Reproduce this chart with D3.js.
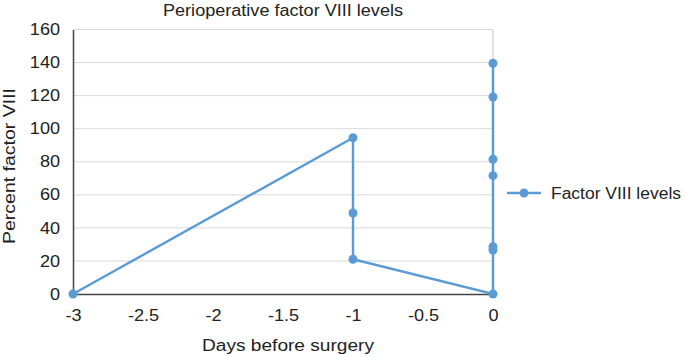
<!DOCTYPE html>
<html>
<head>
<meta charset="utf-8">
<script src="https://cdn.jsdelivr.net/npm/d3@7"></script>
<style>
  body { margin: 0; background: #fff; }
  svg { font-family: "Liberation Sans", Arial, Helvetica, sans-serif; }
</style>
</head>
<body>
<svg></svg>
<script>
// Data
const days = [-3, -1, -1, -1, 0, 0, 0, 0, 0, 0, 0];
const levels = [0, 94.5, 49, 21, 0, 26.6, 28.6, 71.6, 81.5, 119.2, 139.6];
const xTicks = [-3, -2.5, -2, -1.5, -1, -0.5, 0];
const yTicks = [0, 20, 40, 60, 80, 100, 120, 140, 160];
const seriesName = "Factor VIII levels";

const W = 685, H = 357;
const margin = { top: 29.5, right: 192, bottom: 63, left: 73 },
      width = W - margin.left - margin.right,
      height = H - margin.top - margin.bottom;

const color = "#5b9bd5";
const tickStretch = 1.13; // the reference glyphs are a bit wider than the font

const root = d3.select("svg").attr("width", W).attr("height", H);
const svg = root.append("g")
    .attr("transform", `translate(${margin.left},${margin.top})`);

const x = d3.scaleLinear().domain([-3, 0]).range([0, width]);
const y = d3.scaleLinear().domain([0, 160]).range([height, 0]);

// gridlines
svg.selectAll(".grid")
    .data(yTicks.filter(t => t > 0))
    .enter().append("line")
    .attr("x1", 0).attr("x2", width)
    .attr("y1", d => y(d)).attr("y2", d => y(d))
    .style("stroke", "#d9d9d9").style("stroke-width", 1);

// right border
svg.append("line")
    .attr("x1", width).attr("x2", width).attr("y1", 0).attr("y2", height)
    .style("stroke", "#c8c8c8");

// y axis
const yAxis = svg.append("g")
    .call(d3.axisLeft(y).tickValues(yTicks).tickSize(0).tickPadding(13));
yAxis.select(".domain").style("stroke", "#444").style("stroke-width", 1.5);
yAxis.selectAll("text").style("font-size", "16px").style("fill", "#222");

// x axis
const xAxis = svg.append("g")
    .attr("transform", `translate(0,${height})`)
    .call(d3.axisBottom(x).tickValues(xTicks).tickSize(0).tickPadding(16)
        .tickFormat(d => String(d).replace("\u2212", "-")));
xAxis.select(".domain").style("stroke", "#444").style("stroke-width", 1.5);
xAxis.selectAll("text").style("font-size", "16px").style("fill", "#222");

// widen tick labels
root.selectAll(".tick text").each(function () {
    d3.select(this)
        .attr("textLength", this.getComputedTextLength() * tickStretch)
        .attr("lengthAdjust", "spacingAndGlyphs");
});

// series line
const pts = days.map((d, i) => [d, levels[i]]);
svg.append("path")
    .datum(pts)
    .attr("d", d3.line().x(d => x(d[0])).y(d => y(d[1])))
    .style("fill", "none")
    .style("stroke", color)
    .style("stroke-width", 2.4);

svg.selectAll(".pt")
    .data(pts)
    .enter().append("circle")
    .attr("cx", d => x(d[0]))
    .attr("cy", d => y(d[1]))
    .attr("r", 4.5)
    .style("fill", color);

// title and axis labels, widths matched to the reference
function label(sel, len) {
    return sel.style("font-size", "16px").style("fill", "#222")
        .attr("textLength", len).attr("lengthAdjust", "spacingAndGlyphs");
}

label(root.append("text")
    .attr("x", 283).attr("y", 16)
    .attr("text-anchor", "middle")
    .text("Perioperative factor VIII levels"), 240);

label(root.append("text")
    .attr("x", 288).attr("y", 351)
    .attr("text-anchor", "middle")
    .text("Days before surgery"), 172);

label(root.append("text")
    .attr("transform", "translate(15,166) rotate(-90)")
    .attr("text-anchor", "middle")
    .text("Percent factor VIII"), 156);

// legend
const lg = root.append("g").attr("transform", "translate(507,193)");
lg.append("line").attr("x1", 0).attr("x2", 34).attr("y1", 0).attr("y2", 0)
    .style("stroke", color).style("stroke-width", 2.4);
lg.append("circle").attr("cx", 17).attr("cy", 0).attr("r", 4.5).style("fill", color);
label(lg.append("text").attr("x", 44).attr("y", 6).text(seriesName), 130);
</script>
</body>
</html>
